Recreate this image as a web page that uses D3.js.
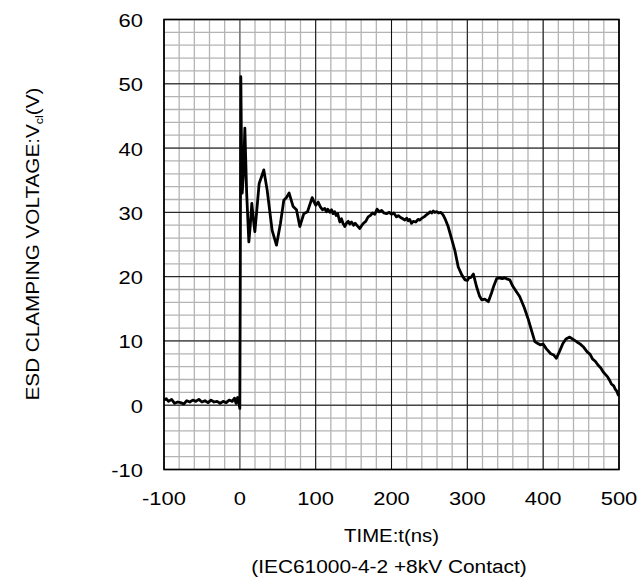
<!DOCTYPE html>
<html>
<head>
<meta charset="utf-8">
<script src="https://cdn.jsdelivr.net/npm/d3@7"></script>
<style>
  body { margin: 0; background: #fff; }
  text { font-family: "Liberation Sans", Arial, sans-serif; fill: #000; }
</style>
</head>
<body>
<div id="chart"></div>
<script>
const width = 638;
const height = 585;
const margin = {top: 19.5, right: 19, bottom: 115.5, left: 164};
const innerWidth = width - margin.left - margin.right;
const innerHeight = height - margin.top - margin.bottom;

// Data
const timeNs = [
  -100, -97, -94, -90, -86, -82, -78, -74, -70, -66, -62, -58, -54, -50, -46, -42, -38, -34, -30, -26,
  -22, -18, -14, -10, -7, -5, -3, -1, 0, 0.6, 1.3, 2.2, 3.1, 4.8, 6.6, 9, 11.9, 13.8, 15.8, 17.8,
  19.8, 22.5, 25.5, 28.5, 31.6, 36, 42.6, 48.3, 53.6, 58, 61.5, 65, 70.3, 74.7, 79.1, 84.4,
  89.2, 95.4, 98, 100.2, 103.3, 106, 109, 112, 114.3, 116, 118.7, 121, 123, 125, 127, 129, 131.9, 134,
  136, 138.5, 141, 143, 145, 147.3, 150, 152, 155, 158.2, 161, 163, 166, 169.2, 172, 175, 178, 181,
  184, 187, 190, 193.4, 197, 200, 203, 206.6, 209, 212, 215, 217.6, 220, 222, 224, 226.4, 229, 232,
  235, 237.4, 240, 243, 246, 248.3, 251, 253, 255, 257.1, 260, 262, 265, 268, 271, 274.7, 279, 283.5,
  288, 293, 297, 300, 302, 305, 308, 312, 316, 319, 323, 327.7, 332, 335, 338.7, 342, 346, 350, 353,
  356, 360, 365, 369, 375, 380, 385, 389, 393, 396, 400, 404, 410, 414, 417.5, 422, 426, 430,
  435, 440, 445, 449, 452.8, 458, 462, 465, 469, 472, 476, 479, 482, 485, 488, 490, 493, 495, 497, 499, 500
];
const clampV = [
  0.8, 1.0, 0.6, 0.9, 0.3, 0.5, 0.4, 0.2, 0.7, 0.5, 0.8, 0.6, 0.9, 0.5, 0.7, 0.4, 0.8, 0.5, 0.6, 0.3,
  0.6, 0.4, 0.8, 0.6, 1.1, 0.3, 1.2, 0.2, -0.5, 20, 51.1, 40, 33.0, 36, 43.1, 33, 25.4, 28, 31.4, 29,
  27.0, 30.5, 34.5, 35.5, 36.6, 33.5, 27.2, 24.9, 28.3, 31.9, 32.3, 33.0, 30.9, 30.4, 27.8, 29.8,
  30.1, 32.3, 31.6, 31.1, 31.6, 30.9, 30.4, 30.6, 30.1, 30.5, 30.0, 30.4, 29.8, 30.1, 29.5, 29.8, 28.5, 29.0,
  28.3, 27.8, 28.4, 28.6, 28.2, 28.5, 28.0, 28.3, 27.9, 27.5, 28.0, 28.3, 28.6, 29.3, 29.5, 29.9, 29.7, 30.5,
  30.1, 30.3, 29.9, 29.8, 30.0, 29.7, 29.9, 29.3, 29.5, 29.2, 29.0, 28.8, 29.1, 28.7, 28.9, 28.3, 28.6, 28.5,
  28.9, 28.8, 29.1, 29.3, 29.6, 29.8, 30.1, 29.9, 30.2, 30.0, 30.1, 29.9, 30.0, 29.6, 28.9, 27.8, 26.0, 24.1,
  21.5, 20.2, 19.5, 19.4, 19.8, 19.9, 20.4, 18.5, 17.0, 16.4, 16.5, 16.1, 17.5, 18.6, 19.7, 19.8, 19.7, 19.8, 19.6,
  19.5, 18.5, 17.6, 16.9, 15.2, 13.5, 11.5, 9.9, 9.6, 9.4, 9.5, 8.8, 8.0, 7.8, 7.3, 8.5, 9.6, 10.3,
  10.6, 10.2, 9.8, 9.5, 9.1, 8.3, 7.9, 7.2, 6.8, 6.3, 5.8, 5.2, 4.8, 4.4, 3.8, 3.3, 3.0, 2.5, 2.2, 1.6, 1.5
];
const data = timeNs.map((t, i) => ({t: t, v: clampV[i]}));

const xTicks = [-100, 0, 100, 200, 300, 400, 500];
const yTicks = [-10, 0, 10, 20, 30, 40, 50, 60];

const svg = d3.select("#chart")
  .append("svg")
    .attr("width", width)
    .attr("height", height);

const innerChart = svg
  .append("g")
    .attr("transform", `translate(${margin.left}, ${margin.top})`);

// Scales
const xScale = d3.scaleLinear()
  .domain([-100, 500])
  .range([0, innerWidth]);

const yScale = d3.scaleLinear()
  .domain([-10, 60])
  .range([innerHeight, 0]);

// Minor grid
innerChart.append("g")
  .selectAll("line")
  .data(d3.range(-100, 501, 20))
  .join("line")
    .attr("x1", d => xScale(d))
    .attr("x2", d => xScale(d))
    .attr("y1", 0)
    .attr("y2", innerHeight)
    .attr("stroke", "#b4b4b4")
    .attr("stroke-width", 1.3);

innerChart.append("g")
  .selectAll("line")
  .data(d3.range(-10, 61, 2))
  .join("line")
    .attr("x1", 0)
    .attr("x2", innerWidth)
    .attr("y1", d => yScale(d))
    .attr("y2", d => yScale(d))
    .attr("stroke", "#b4b4b4")
    .attr("stroke-width", 1.3);

// Major grid
innerChart.append("g")
  .selectAll("line")
  .data(xTicks)
  .join("line")
    .attr("x1", d => xScale(d))
    .attr("x2", d => xScale(d))
    .attr("y1", 0)
    .attr("y2", innerHeight)
    .attr("stroke", d => d === 0 ? "#7a7a7a" : "#111")
    .attr("stroke-width", d => d === 0 ? 1.6 : 1);

innerChart.append("g")
  .selectAll("line")
  .data(yTicks)
  .join("line")
    .attr("x1", 0)
    .attr("x2", innerWidth)
    .attr("y1", d => yScale(d))
    .attr("y2", d => yScale(d))
    .attr("stroke", "#111")
    .attr("stroke-width", 1);

// Frame
innerChart.append("rect")
  .attr("width", innerWidth)
  .attr("height", innerHeight)
  .attr("fill", "none")
  .attr("stroke", "#000")
  .attr("stroke-width", 1.6);

// Trace
const lineGenerator = d3.line()
  .x(d => xScale(d.t))
  .y(d => yScale(d.v));

innerChart.append("path")
  .attr("d", lineGenerator(data))
  .attr("fill", "none")
  .attr("stroke", "#000")
  .attr("stroke-width", 2.8)
  .attr("stroke-linejoin", "round");

// Tick labels (the original font is wider than Arial, so stretch a little)
innerChart.append("g")
  .attr("class", "labels y-labels")
  .selectAll("text")
  .data(yTicks)
  .join("text")
    .attr("transform", d => `translate(-21, ${yScale(d) + 7.5}) scale(1.22, 1)`)
    .attr("text-anchor", "end")
    .style("font-size", "18px")
    .text(d => String(d));

innerChart.append("g")
  .attr("class", "labels x-labels")
  .selectAll("text")
  .data(xTicks)
  .join("text")
    .attr("transform", d => `translate(${xScale(d)}, ${innerHeight + 35.5}) scale(1.22, 1)`)
    .attr("text-anchor", "middle")
    .style("font-size", "18px")
    .text(d => String(d));

// Titles
svg.append("text")
  .attr("transform", `translate(${margin.left + innerWidth / 2}, 541.5) scale(1.13, 1)`)
  .attr("text-anchor", "middle")
  .style("font-size", "18px")
  .text("TIME:t(ns)");

svg.append("text")
  .attr("transform", `translate(389, 572.5) scale(1.16, 1)`)
  .attr("text-anchor", "middle")
  .style("font-size", "18px")
  .text("(IEC61000-4-2 +8kV Contact)");

const yTitle = svg.append("text")
  .attr("transform", "translate(39, 244) rotate(-90) scale(1.15, 1)")
  .attr("text-anchor", "middle")
  .style("font-size", "18px");
yTitle.append("tspan").text("ESD CLAMPING VOLTAGE:V");
yTitle.append("tspan").text("cl").style("font-size", "11px").attr("dy", 4);
yTitle.append("tspan").text("(V)").attr("dy", -4);
</script>
</body>
</html>
